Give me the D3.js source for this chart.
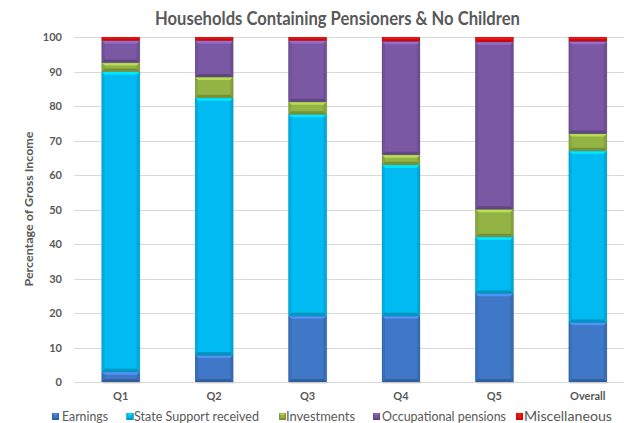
<!DOCTYPE html>
<html>
<head>
<meta charset="utf-8">
<script src="https://cdn.jsdelivr.net/npm/d3@7"></script>
<style>
  html, body { margin: 0; padding: 0; background: #fff; }
  svg { display: block; }
  text { font-family: Lato, "Open Sans", "DejaVu Sans", sans-serif; }
</style>
</head>
<body>
<svg id="chart" width="624" height="423"></svg>
<script>
// ---- Data ----
const categories = ["Q1", "Q2", "Q3", "Q4", "Q5", "Overall"];
const seriesNames = ["Earnings", "State Support received", "Investments", "Occupational pensions", "Miscellaneous"];
const earnings      = [3.0, 7.8, 19.2, 19.2, 25.7, 17.3];
const stateSupport  = [87.0, 74.6, 58.4, 43.8, 16.4, 49.7];
const investments   = [2.6, 6.0, 3.6, 2.9, 8.0, 5.0];
const occupational  = [6.4, 10.6, 17.8, 32.9, 48.5, 26.8];
const miscellaneous = [1.0, 1.0, 1.0, 1.2, 1.4, 1.2];
const yTicks = [0, 10, 20, 30, 40, 50, 60, 70, 80, 90, 100];
const colors = ["#3E78C6", "#00BBF2", "#93B444", "#7A58A4", "#F01010"];

const title = "Households Containing Pensioners & No Children";
const yLabel = "Percentage of Gross Income";

// ---- Build table ----
const seriesArrays = [earnings, stateSupport, investments, occupational, miscellaneous];
const table = categories.map((c, i) => {
  const row = { cat: c };
  seriesNames.forEach((s, j) => row[s] = seriesArrays[j][i]);
  return row;
});
const stacked = d3.stack().keys(seriesNames)(table);

// ---- Layout ----
const svg = d3.select("#chart");
const plot = { left: 74, right: 634.5, top: 37, bottom: 382 };

const x = d3.scaleBand().domain(categories).range([plot.left, plot.right]).paddingInner(0.593).paddingOuter(0.2965);
const y = d3.scaleLinear().domain([0, 100]).range([plot.bottom, plot.top]);

const textColor = "#595959";

// Title
svg.append("text")
  .attr("x", 337.5).attr("y", 25)
  .attr("text-anchor", "middle")
  .attr("font-size", 18.5).attr("font-weight", "bold")
  .attr("fill", textColor)
  .attr("textLength", 365).attr("lengthAdjust", "spacingAndGlyphs")
  .text(title);

// Gridlines
svg.append("g").selectAll("line").data(yTicks).join("line")
  .attr("x1", plot.left).attr("x2", 624)
  .attr("y1", d => Math.round(y(d)) + 0.5).attr("y2", d => Math.round(y(d)) + 0.5)
  .attr("stroke", "#d9d9d9").attr("stroke-width", 1);

// Y axis labels via d3 axis
const yAxis = d3.axisLeft(y).tickValues(yTicks).tickSize(0).tickPadding(12);
const yg = svg.append("g").attr("transform", `translate(${plot.left},0)`).call(yAxis);
yg.select(".domain").remove();
yg.selectAll("text")
  .attr("font-size", 11).attr("font-weight", "bold")
  .attr("fill", textColor)
  .style("font-family", "Lato, 'Open Sans', sans-serif");

// X axis labels
const xAxis = d3.axisBottom(x).tickSize(0).tickPadding(10);
const xg = svg.append("g").attr("transform", `translate(0,${plot.bottom})`).call(xAxis);
xg.select(".domain").remove();
xg.selectAll("text")
  .attr("font-size", 11).attr("font-weight", "bold")
  .attr("fill", textColor)
  .style("font-family", "Lato, 'Open Sans', sans-serif");

// Y label
svg.append("text")
  .attr("transform", "translate(32.5,209) rotate(-90)")
  .attr("text-anchor", "middle")
  .attr("font-size", 11).attr("font-weight", "bold")
  .attr("fill", textColor)
  .attr("textLength", 155).attr("lengthAdjust", "spacingAndGlyphs")
  .text(yLabel);

// Bevel drawing helper
function bevel(g, x0, y0, w, h, color, bSize) {
  const c = d3.color(color);
  const light = c.brighter(0.6).formatHex();
  const dark = c.darker(0.5).formatHex();
  const darker = c.darker(0.8).formatHex();
  const b = Math.min(bSize, h / 2, w / 2);
  g.append("rect").attr("x", x0).attr("y", y0).attr("width", w).attr("height", h).attr("fill", color);
  g.append("polygon").attr("points", [[x0, y0], [x0 + b, y0 + b], [x0 + b, y0 + h - b], [x0, y0 + h]].join(" "))
    .attr("fill", dark).attr("opacity", 0.45);
  g.append("polygon").attr("points", [[x0 + w, y0], [x0 + w - b, y0 + b], [x0 + w - b, y0 + h - b], [x0 + w, y0 + h]].join(" "))
    .attr("fill", dark).attr("opacity", 0.6);
  g.append("polygon").attr("points", [[x0, y0], [x0 + w, y0], [x0 + w - b, y0 + b], [x0 + b, y0 + b]].join(" "))
    .attr("fill", light);
  g.append("polygon").attr("points", [[x0, y0 + h], [x0 + w, y0 + h], [x0 + w - b, y0 + h - b], [x0 + b, y0 + h - b]].join(" "))
    .attr("fill", darker).attr("opacity", 0.8);
  g.append("rect").attr("x", x0 + 0.25).attr("y", y0 + 0.25).attr("width", w - 0.5).attr("height", Math.max(0, h - 0.5))
    .attr("fill", "none").attr("stroke", darker).attr("stroke-width", 0.5).attr("opacity", 0.7);
}

// Shadows
const shadowG = svg.append("g");
categories.forEach(c => {
  shadowG.append("rect")
    .attr("x", x(c) + 1).attr("y", y(100) + 1)
    .attr("width", x.bandwidth()).attr("height", y(0) - y(100) + 1)
    .attr("fill", "#000").attr("opacity", 0.08);
});

// Bars
const barsG = svg.append("g");
stacked.forEach((layer, si) => {
  const lg = barsG.append("g");
  layer.forEach(d => {
    const x0 = x(d.data.cat);
    const y0 = y(d[1]);
    const h = y(d[0]) - y(d[1]);
    bevel(lg, x0, y0, x.bandwidth(), h, colors[si], 3);
  });
});

// Legend
const legendItems = [
  { name: seriesNames[0], x: 52, tx: 62, w: 46 },
  { name: seriesNames[1], x: 126.5, tx: 134, w: 125 },
  { name: seriesNames[2], x: 279, tx: 286, w: 69 },
  { name: seriesNames[3], x: 373, tx: 382, w: 124 },
  { name: seriesNames[4], x: 516, tx: 524, w: 88 }
];
const lg = svg.append("g");
legendItems.forEach((it, i) => {
  const g = lg.append("g");
  bevel(g, it.x, 413, 7, 7, colors[i], 2);
  g.append("text")
    .attr("x", it.tx).attr("y", 420.5)
    .attr("font-size", 12.5).attr("fill", textColor)
    .attr("textLength", it.w).attr("lengthAdjust", "spacingAndGlyphs")
    .text(it.name);
});
</script>
</body>
</html>
